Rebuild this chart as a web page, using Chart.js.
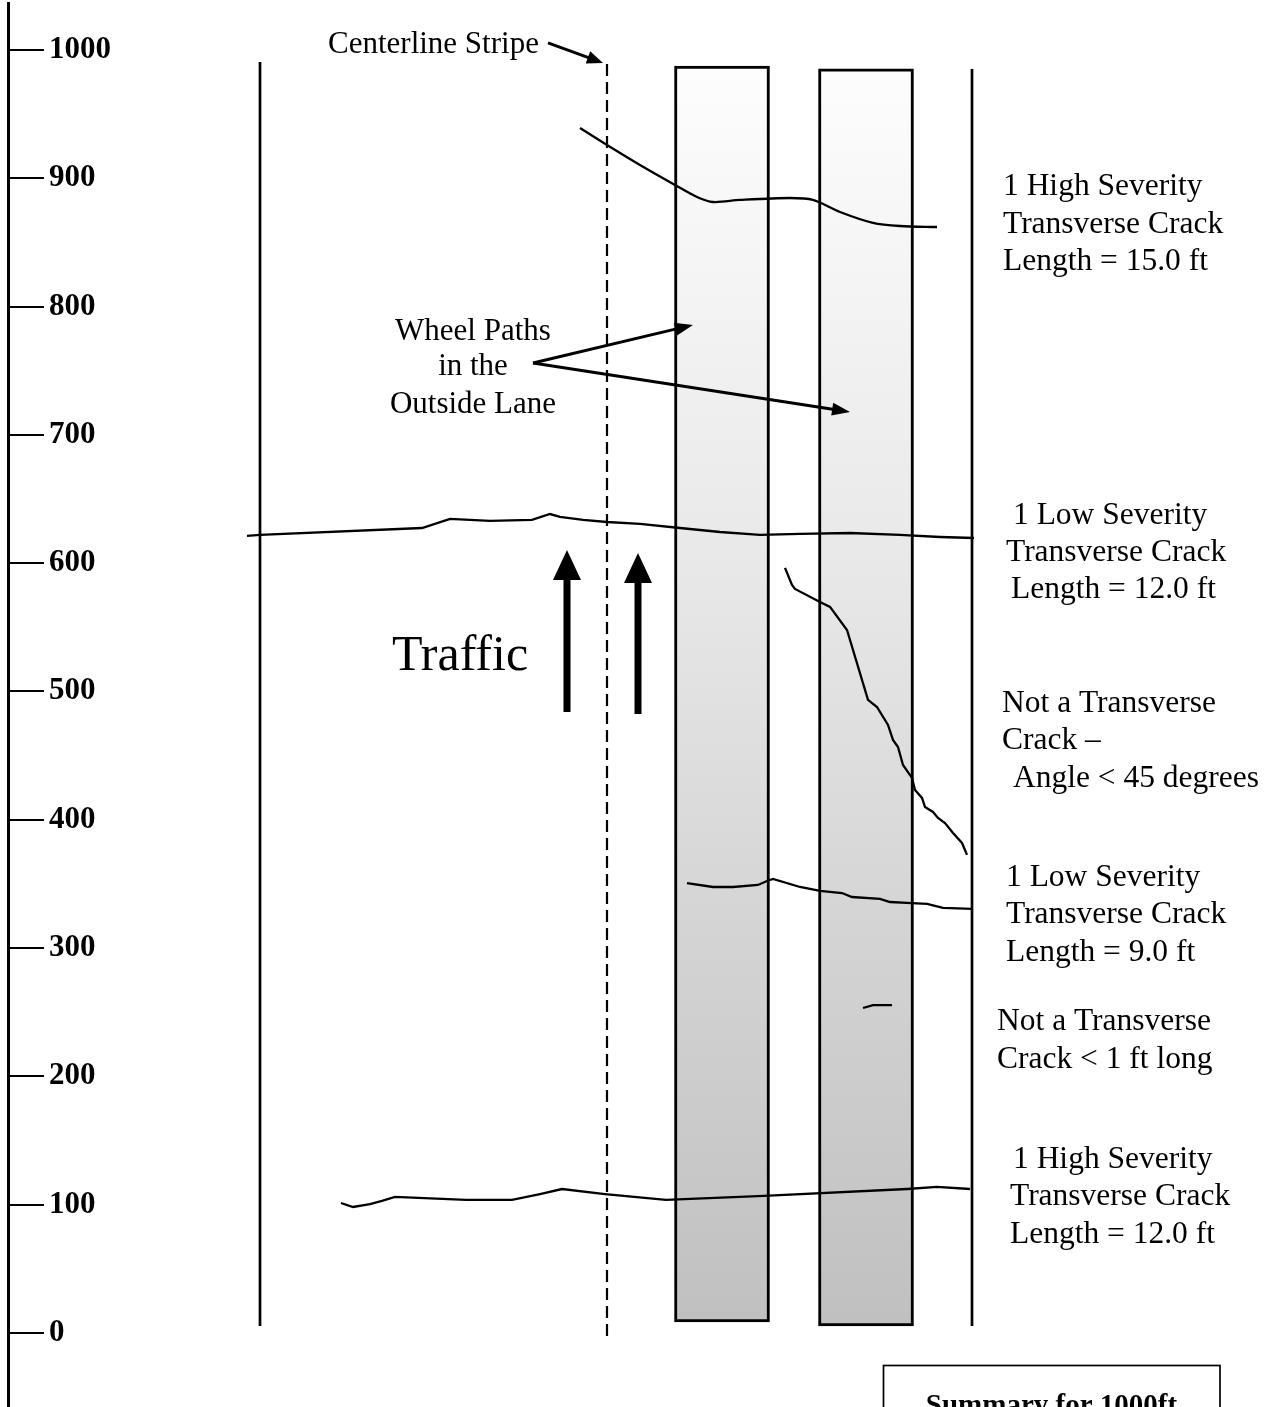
<!DOCTYPE html>
<html>
<head>
<meta charset="utf-8">
<script src="https://cdn.jsdelivr.net/npm/chart.js@4.4.1/dist/chart.umd.min.js"></script>
<style>
    html, body { margin: 0; padding: 0; background: #fff; }
    #wrap { position: relative; width: 1273px; height: 1407px; }
</style>
</head>
<body>
<div id="wrap"><canvas id="crack-map"></canvas></div>
<script>
// station along the section, feet
const TICK_FEET = [0, 100, 200, 300, 400, 500, 600, 700, 800, 900, 1000];

// x = position across the pavement (drawing units), y = station (ft)
const LANE_EDGE_X = [260, 972];
const LANE_EDGE_FROM = [5.5, 5.5];
const LANE_EDGE_TO = [990.6, 985.2];

const CENTERLINE_X = 607;
const CENTERLINE_FROM = -2.3;
const CENTERLINE_TO = 990.6;

const WHEEL_PATH_X = [722, 866];
const WHEEL_PATH_FROM = [8.6, 5.5];
const WHEEL_PATH_TO = [987.5, 985.2];

// 1 high severity, ~900 ft
const CRACK_A_X = [580, 607, 640, 675, 697, 713, 740, 790, 813, 840, 873, 900, 937];
const CRACK_A_FT = [939.2, 926.0, 910.4, 894.8, 885.4, 881.5, 883.1, 884.6, 883.1, 873.7, 865.2, 862.8, 862.0];

// 1 low severity, ~620 ft
const CRACK_B_X = [247, 260, 422, 450, 490, 532, 550, 560, 583, 607, 640, 680, 720, 760, 800, 850, 900, 940, 974];
const CRACK_B_FT = [621.2, 622.0, 627.4, 634.5, 632.9, 633.7, 638.3, 636.0, 633.7, 632.1, 630.6, 627.4, 624.3, 622.0, 622.8, 623.5, 622.0, 620.4, 619.6];

// not transverse, angle < 45 degrees
const CRACK_C_X = [785, 792, 795, 820, 830, 847, 868, 877, 888, 893, 898, 903, 912, 915, 922, 925, 933, 938, 945, 953, 962, 967];
const CRACK_C_FT = [596.3, 583.0, 579.9, 569.8, 565.9, 547.9, 493.4, 487.9, 473.9, 462.2, 456.7, 442.7, 432.6, 423.2, 417.0, 410.0, 406.1, 401.4, 397.5, 389.7, 381.9, 372.6];

// 1 low severity, ~340 ft
const CRACK_D_X = [687, 713, 733, 758, 767, 773, 800, 820, 842, 852, 880, 890, 907, 927, 943, 972];
const CRACK_D_FT = [350.7, 347.6, 347.6, 349.2, 352.3, 353.9, 347.6, 344.5, 342.9, 339.8, 338.3, 335.9, 335.2, 334.4, 331.3, 330.5];

// not transverse, < 1 ft long
const CRACK_E_X = [863, 873, 892];
const CRACK_E_FT = [253.3, 255.6, 255.6];

// 1 high severity, ~100 ft
const CRACK_F_X = [341, 353, 370, 382, 395, 466, 512, 540, 562, 605, 666, 764, 907, 937, 970];
const CRACK_F_FT = [101.3, 98.2, 100.5, 102.9, 106.0, 103.7, 103.7, 108.3, 112.2, 108.3, 103.7, 106.8, 112.2, 113.8, 112.2];

// arrows: traffic x2, centerline, wheel paths x2
const ARROW_TAIL_X = [567, 638, 548, 533, 533];
const ARROW_TAIL_FT = [484.0, 482.5, 1005.5, 756.0, 756.0];
const ARROW_TIP_X = [567, 638, 603, 693, 850];
const ARROW_TIP_FT = [610.3, 608.0, 989.9, 785.7, 717.9];

const NOTE_LINES = [
    ["1 High Severity", "Transverse Crack", "Length = 15.0 ft"],
    ["1 Low Severity", "Transverse Crack", "Length = 12.0 ft"],
    ["Not a Transverse", "Crack \u2013", "Angle < 45 degrees"],
    ["1 Low Severity", "Transverse Crack", "Length = 9.0 ft"],
    ["Not a Transverse", "Crack < 1 ft long"],
    ["1 High Severity", "Transverse Crack", "Length = 12.0 ft"],
];
const WHEEL_PATH_NOTE = ["Wheel Paths", "in the", "Outside Lane"];
const CENTERLINE_NOTE = "Centerline Stripe";
const TRAFFIC_NOTE = "Traffic";
const SUMMARY_TITLE = "Summary for 1000ft";

// ---- layout / style (pixels) ----
const SERIF = '"Liberation Serif", "Times New Roman", serif';
const NOTE_LAYOUT = [
    { x: [1003, 1003, 1003], y: [195, 233, 270] },
    { x: [1013, 1006, 1011], y: [524, 561, 598] },
    { x: [1002, 1002, 1013], y: [712, 749, 787] },
    { x: [1006, 1006, 1006], y: [886, 923, 961] },
    { x: [997, 997], y: [1030, 1068] },
    { x: [1013, 1010, 1010], y: [1168, 1205, 1243] },
];
const ARROW_STYLE = [
    { shaft: 7, len: 30, half: 14 },
    { shaft: 7, len: 30, half: 14 },
    { shaft: 3, len: 16, half: 6.5 },
    { shaft: 3, len: 18, half: 6.5 },
    { shaft: 3, len: 18, half: 6.5 },
];

const pts = (xs, ys) => xs.map((x, i) => ({ x, y: ys[i] }));

function lineSet(data, extra) {
    return Object.assign({
        type: "line",
        data,
        borderColor: "#000",
        borderWidth: 2.3,
        pointRadius: 0,
        tension: 0,
        fill: false,
        order: 1,
    }, extra || {});
}

function wheelPathFill(context) {
    const chart = context.chart;
    if (!chart.chartArea) return "#ddd";
    const y = chart.scales.y;
    const g = chart.ctx.createLinearGradient(0, y.getPixelForValue(Math.max(...WHEEL_PATH_TO)), 0, y.getPixelForValue(Math.min(...WHEEL_PATH_FROM)));
    g.addColorStop(0, "#fdfdfd");
    g.addColorStop(0.4, "#e8e8e8");
    g.addColorStop(0.7, "#d3d3d3");
    g.addColorStop(1, "#c0c0c0");
    return g;
}

function drawArrow(ctx, x1, y1, x2, y2, st) {
    const a = Math.atan2(y2 - y1, x2 - x1);
    const c = Math.cos(a), s = Math.sin(a);
    const bx = x2 - c * st.len, by = y2 - s * st.len;
    ctx.lineWidth = st.shaft;
    ctx.lineCap = "butt";
    ctx.beginPath();
    ctx.moveTo(x1, y1);
    ctx.lineTo(bx + c * 2, by + s * 2);
    ctx.stroke();
    ctx.beginPath();
    ctx.moveTo(x2, y2);
    ctx.lineTo(bx - s * st.half, by + c * st.half);
    ctx.lineTo(bx + s * st.half, by - c * st.half);
    ctx.closePath();
    ctx.fill();
}

const overlay = {
    id: "overlay",
    afterDraw(chart) {
        const { ctx, chartArea, scales: { x, y } } = chart;
        ctx.save();
        ctx.strokeStyle = "#000";
        ctx.fillStyle = "#000";

        // short tick dashes on the station axis
        ctx.lineWidth = 2;
        y.ticks.forEach((t) => {
            const py = Math.round(y.getPixelForValue(t.value));
            ctx.beginPath();
            ctx.moveTo(chartArea.left, py);
            ctx.lineTo(chartArea.left + 36, py);
            ctx.stroke();
        });

        ARROW_TAIL_X.forEach((_, i) => {
            drawArrow(ctx,
                x.getPixelForValue(ARROW_TAIL_X[i]), y.getPixelForValue(ARROW_TAIL_FT[i]),
                x.getPixelForValue(ARROW_TIP_X[i]), y.getPixelForValue(ARROW_TIP_FT[i]),
                ARROW_STYLE[i]);
        });

        ctx.textBaseline = "alphabetic";
        ctx.textAlign = "left";
        ctx.font = `31.5px ${SERIF}`;
        NOTE_LINES.forEach((lines, g) => {
            lines.forEach((txt, j) => {
                ctx.fillText(txt, NOTE_LAYOUT[g].x[j], NOTE_LAYOUT[g].y[j]);
            });
        });

        ctx.font = `31px ${SERIF}`;
        ctx.fillText(CENTERLINE_NOTE, 328, 53);

        ctx.textAlign = "center";
        [340, 375, 413].forEach((py, j) => ctx.fillText(WHEEL_PATH_NOTE[j], 473, py));

        ctx.textAlign = "left";
        ctx.font = `50px ${SERIF}`;
        ctx.fillText(TRAFFIC_NOTE, 392, 670);

        // summary box (cut by the page edge)
        ctx.lineWidth = 1.7;
        ctx.strokeRect(883.5, 1365.5, 336.5, 80);
        ctx.textAlign = "center";
        ctx.font = `bold 29px ${SERIF}`;
        ctx.fillText(SUMMARY_TITLE, 1051.5, 1414);
        ctx.restore();
    },
};

const datasets = [
    {
        type: "bar",
        data: WHEEL_PATH_X.map((x, i) => ({ x, y: [WHEEL_PATH_FROM[i], WHEEL_PATH_TO[i]] })),
        backgroundColor: wheelPathFill,
        borderColor: "#000",
        borderWidth: 3,
        borderSkipped: false,
        barThickness: 95,
        order: 10,
    },
    lineSet(pts([LANE_EDGE_X[0], LANE_EDGE_X[0]], [LANE_EDGE_FROM[0], LANE_EDGE_TO[0]]), { borderWidth: 2.7 }),
    lineSet(pts([LANE_EDGE_X[1], LANE_EDGE_X[1]], [LANE_EDGE_FROM[1], LANE_EDGE_TO[1]]), { borderWidth: 2.7 }),
    lineSet(pts([CENTERLINE_X, CENTERLINE_X], [CENTERLINE_FROM, CENTERLINE_TO]), { borderWidth: 2.2, borderDash: [12, 6] }),
    lineSet(pts(CRACK_A_X, CRACK_A_FT), { tension: 0.3 }),
    lineSet(pts(CRACK_B_X, CRACK_B_FT)),
    lineSet(pts(CRACK_C_X, CRACK_C_FT)),
    lineSet(pts(CRACK_D_X, CRACK_D_FT)),
    lineSet(pts(CRACK_E_X, CRACK_E_FT)),
    lineSet(pts(CRACK_F_X, CRACK_F_FT)),
];

new Chart(document.getElementById("crack-map"), {
    type: "line",
    data: { datasets },
    options: {
        responsive: true,
        maintainAspectRatio: false,
        animation: false,
        events: [],
        layout: { autoPadding: false, padding: { left: 8, top: 3, right: 0, bottom: 0 } },
        plugins: { legend: { display: false }, tooltip: { enabled: false } },
        scales: {
            x: { type: "linear", min: 8, max: 1273, offset: false, display: false },
            y: {
                type: "linear",
                min: -57.7,
                max: 1036.6,
                afterFit: (s) => {
                    s.width = 0;
                    s.paddingTop = 0;
                    s.paddingBottom = 0;
                },
                afterBuildTicks: (s) => { s.ticks = TICK_FEET.map((v) => ({ value: v })); },
                ticks: {
                    mirror: true,
                    padding: 41,
                    autoSkip: false,
                    color: "#000",
                    font: { family: SERIF, size: 31, weight: "bold" },
                    callback: (v) => String(v),
                },
                grid: { display: false, drawTicks: false },
                border: { display: true, color: "#000", width: 3 },
            },
        },
    },
    plugins: [overlay],
});
</script>
</body>
</html>
